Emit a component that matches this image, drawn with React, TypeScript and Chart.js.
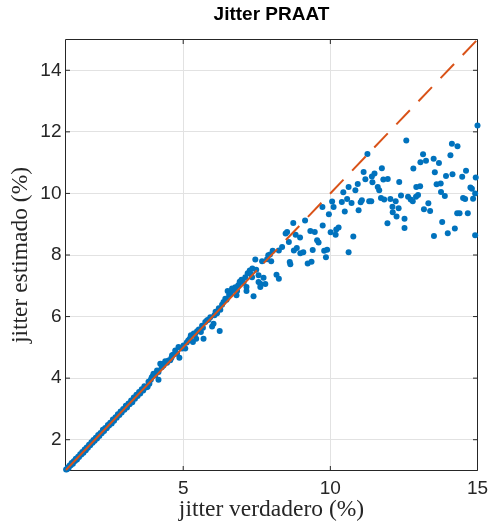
import React, { useEffect, useRef } from "react";
import { Chart, registerables } from "chart.js";

Chart.register(...registerables);

// True jitter (%) of each synthetic voice and the value PRAAT estimated for it.
const trueJitter = [
  // 1 - 4 %
  1.02, 1.05, 1.08, 1.11, 1.14, 1.18, 1.21, 1.25, 1.28, 1.32,
  1.35, 1.39, 1.43, 1.46, 1.50, 1.54, 1.57, 1.61, 1.65, 1.69,
  1.72, 1.76, 1.80, 1.84, 1.88, 1.92, 1.95, 1.99, 2.03, 2.07,
  2.11, 2.15, 2.19, 2.23, 2.27, 2.31, 2.35, 2.40, 2.44, 2.48,
  2.52, 2.57, 2.61, 2.65, 2.70, 2.74, 2.78, 2.83, 2.87, 2.91,
  2.96, 3.00, 3.05, 3.09, 3.14, 3.18, 3.23, 3.27, 3.32, 3.36,
  3.41, 3.45, 3.50, 3.54, 3.59, 3.64, 3.68, 3.73, 3.76, 3.79,
  3.82, 3.85, 3.90, 3.93, 3.97, 3.99, 4.05, 4.16,
  // 4 - 7 %
  4.11, 4.16, 4.22, 4.27, 4.30, 4.33, 4.39, 4.45, 4.50, 4.56,
  4.60, 4.62, 4.67, 4.73, 4.79, 4.84, 4.87, 4.92, 4.96, 5.01,
  5.07, 5.12, 5.17, 5.22, 5.26, 5.33, 5.36, 5.41, 5.44, 5.47,
  5.53, 5.60, 5.64, 5.67, 5.69, 5.75, 5.81, 5.86, 5.92, 5.98,
  6.03, 6.06, 6.10, 6.15, 6.21, 6.24, 6.26, 6.32, 6.37, 6.43,
  6.47, 6.51, 6.56, 6.61, 6.66, 6.72, 6.77, 6.81, 6.83, 6.87,
  6.92, 6.98,
  // 7 - 10 %
  7.05, 7.11, 7.15, 7.15, 7.19, 7.26, 7.30, 7.34, 7.35, 7.39,
  7.45, 7.48, 7.56, 7.56, 7.62, 7.62, 7.68, 7.73, 7.79, 7.85,
  7.89, 7.95, 7.99, 8.04, 8.17, 8.25, 8.25, 8.36, 8.48, 8.53,
  8.59, 8.62, 8.64, 8.74, 8.76, 8.82, 8.86, 8.97, 8.98, 9.08,
  9.14, 9.23, 9.32, 9.36, 9.40, 9.47, 9.55, 9.60, 9.73, 9.74,
  9.79, 9.85, 9.89, 9.95,
  // 10 - 15 %
  10.01, 10.06, 10.11, 10.18, 10.20, 10.28, 10.39, 10.44, 10.49, 10.57,
  10.62, 10.62, 10.72, 10.78, 10.85, 10.93, 10.96, 11.03, 11.07, 11.13,
  11.19, 11.26, 11.32, 11.39, 11.41, 11.43, 11.50, 11.61, 11.66, 11.72,
  11.75, 11.80, 11.83, 11.94, 11.95, 12.04, 12.11, 12.12, 12.22, 12.25,
  12.32, 12.34, 12.40, 12.52, 12.52, 12.58, 12.64, 12.73, 12.80, 12.82,
  12.91, 12.92, 12.98, 13.05, 13.06, 13.15, 13.18, 13.25, 13.33, 13.39,
  13.51, 13.52, 13.55, 13.61, 13.69, 13.75, 13.76, 13.80, 13.89, 13.93,
  13.99, 14.08, 14.13, 14.15, 14.23, 14.31, 14.32, 14.39, 14.48, 14.51,
  14.58, 14.61, 14.67, 14.76, 14.81, 14.85, 14.92, 14.92, 14.94, 15.00,
];

const estimatedJitter = [
  // 1 - 4 %
  1.03, 1.04, 1.10, 1.09, 1.16, 1.17, 1.24, 1.22, 1.30, 1.31,
  1.38, 1.36, 1.45, 1.44, 1.53, 1.52, 1.60, 1.58, 1.68, 1.66,
  1.75, 1.74, 1.84, 1.82, 1.92, 1.90, 1.99, 1.97, 2.06, 2.04,
  2.15, 2.12, 2.22, 2.21, 2.32, 2.28, 2.38, 2.37, 2.48, 2.46,
  2.55, 2.53, 2.66, 2.62, 2.73, 2.71, 2.83, 2.80, 2.92, 2.88,
  3.00, 2.97, 3.10, 3.05, 3.18, 3.15, 3.27, 3.22, 3.37, 3.33,
  3.46, 3.42, 3.55, 3.50, 3.64, 3.60, 3.74, 3.70, 3.71, 3.72,
  3.88, 3.82, 3.95, 4.03, 4.07, 4.14, 4.09, 3.95,
  // 4 - 7 %
  4.25, 4.20, 4.47, 4.35, 4.46, 4.41, 4.55, 4.50, 4.57, 4.58,
  4.66, 4.74, 4.77, 4.90, 4.79, 5.01, 4.66, 4.98, 4.96, 5.06,
  4.96, 5.16, 5.22, 5.28, 5.39, 5.17, 5.45, 5.44, 5.28, 5.52,
  5.58, 5.50, 5.70, 5.64, 5.28, 5.82, 5.88, 5.90, 5.98, 5.68,
  5.77, 6.04, 6.16, 6.11, 6.27, 5.53, 6.22, 6.38, 6.47, 6.58,
  6.55, 6.83, 6.70, 6.76, 6.91, 6.86, 6.95, 6.69, 6.83, 7.02,
  7.13, 7.20,
  // 7 - 10 %
  7.10, 7.28, 6.96, 6.83, 7.41, 7.50, 7.38, 7.28, 7.56, 6.66,
  7.85, 7.52, 7.34, 7.12, 7.07, 6.96, 7.80, 7.26, 7.06, 7.86,
  7.99, 8.02, 7.80, 8.14, 7.36, 7.23, 8.15, 8.26, 8.70, 8.75,
  8.42, 7.77, 7.70, 9.04, 8.15, 8.66, 8.23, 8.57, 8.06, 8.09,
  9.12, 7.72, 8.78, 7.78, 8.16, 8.75, 8.48, 8.41, 9.56, 8.96,
  8.14, 7.93, 8.17, 9.32,
  // 10 - 15 %
  8.74, 9.74, 9.56, 8.66, 8.83, 8.89, 9.72, 10.04, 9.41, 9.82,
  10.21, 8.09, 9.69, 8.60, 10.10, 10.31, 9.45, 9.71, 9.78, 10.70,
  10.46, 11.28, 9.75, 9.75, 10.55, 10.36, 10.65, 10.21, 10.10, 9.85,
  10.82, 10.45, 9.80, 9.03, 10.47, 9.82, 9.57, 9.39, 9.75, 9.25,
  9.52, 10.37, 9.93, 9.18, 8.88, 11.72, 9.89, 9.80, 9.75, 10.81,
  9.89, 10.21, 9.95, 10.23, 11.01, 11.27, 9.49, 11.06, 9.68, 9.43,
  11.13, 8.62, 10.69, 10.30, 10.99, 10.32, 10.05, 9.07, 9.92, 10.57,
  8.71, 11.24, 11.61, 10.62, 8.86, 9.36, 11.53, 9.36, 10.54, 9.85,
  9.82, 10.74, 9.36, 10.19, 10.15, 9.83, 10.00, 8.64, 10.52, 12.21,
];

// Ideal estimate (y = x): vertices of the reference line; solid below solidUntil, dashed above.
const identityLine = [1, 7.5, 15];
const solidUntil = 7.5;

const axisMin = 1;
const axisMax = 15;
const xTicks = [5, 10, 15];
const yTicks = [2, 4, 6, 8, 10, 12, 14];

const AXIS_COLOR = "#262626";
const GRID_COLOR = "#e2e2e2";
const MARKER_COLOR = "#0072BD";
const LINE_COLOR = "#D95319";
const SANS = "'Liberation Sans', Arial, Helvetica, sans-serif";
const SERIF = "'Liberation Serif', 'Times New Roman', serif";

// Box around the plot area with inward tick marks on all four sides.
const boxAndTicks = {
  id: "boxAndTicks",
  beforeDatasetsDraw(chart: any) {
    const { ctx, chartArea: a } = chart;
    const xs = chart.scales.x;
    const ys = chart.scales.y;
    const len = 4.5;
    ctx.save();
    ctx.strokeStyle = AXIS_COLOR;
    ctx.lineWidth = 1;
    ctx.beginPath();
    ctx.rect(a.left, a.top, a.right - a.left, a.bottom - a.top);
    xTicks.forEach((v) => {
      const p = xs.getPixelForValue(v);
      ctx.moveTo(p, a.bottom);
      ctx.lineTo(p, a.bottom - len);
      ctx.moveTo(p, a.top);
      ctx.lineTo(p, a.top + len);
    });
    yTicks.forEach((v) => {
      const p = ys.getPixelForValue(v);
      ctx.moveTo(a.left, p);
      ctx.lineTo(a.left + len, p);
      ctx.moveTo(a.right, p);
      ctx.lineTo(a.right - len, p);
    });
    ctx.stroke();
    ctx.restore();
  },
};

export default function App() {
  const canvasRef = useRef<HTMLCanvasElement>(null);

  useEffect(() => {
    const points = trueJitter.map((x, i) => ({ x, y: estimatedJitter[i] }));
    const dashed = [19.5, 12.5];

    const chart = new Chart(canvasRef.current as HTMLCanvasElement, {
      type: "scatter",
      data: {
        datasets: [
          {
            type: "line",
            data: identityLine.map((v) => ({ x: v, y: v })),
            borderColor: LINE_COLOR,
            borderWidth: 2,
            pointRadius: 0,
            fill: false,
            tension: 0,
            order: 0,
            segment: {
              borderDash: (ctx: any) =>
                identityLine[ctx.p0DataIndex] < solidUntil ? [] : dashed,
              borderDashOffset: (ctx: any) =>
                identityLine[ctx.p0DataIndex] < solidUntil ? 0 : 22,
            },
          } as any,
          {
            type: "scatter",
            data: points,
            pointRadius: 3,
            pointHoverRadius: 3,
            backgroundColor: MARKER_COLOR,
            borderWidth: 0,
            clip: false,
            order: 1,
          } as any,
        ],
      },
      options: {
        responsive: false,
        animation: false,
        devicePixelRatio: 1,
        events: [],
        layout: { padding: { left: 0, right: 12.5, top: 0, bottom: 0 } },
        plugins: {
          legend: { display: false },
          tooltip: { enabled: false },
          title: {
            display: true,
            text: "Jitter PRAAT",
            fullSize: false,
            color: "#000000",
            font: { family: SANS, size: 19, weight: "bold", lineHeight: 1.2 },
            padding: { top: 3, bottom: 13.7 },
          },
        },
        scales: {
          x: {
            type: "linear",
            min: axisMin,
            max: axisMax,
            afterBuildTicks: (s: any) => {
              s.ticks = xTicks.map((value) => ({ value }));
            },
            afterFit: (s: any) => {
              s.height = 51.5;
              s.paddingLeft = 0;
              s.paddingRight = 0;
            },
            grid: { color: GRID_COLOR, lineWidth: 1, drawTicks: false },
            border: { display: false },
            ticks: {
              color: AXIS_COLOR,
              font: { family: SANS, size: 19 },
              padding: 7,
              maxRotation: 0,
              autoSkip: false,
            },
            title: {
              display: true,
              text: "jitter verdadero (%)",
              color: AXIS_COLOR,
              font: { family: SERIF, size: 23.5 },
              padding: { top: 0, bottom: -2 },
            },
          },
          y: {
            type: "linear",
            min: axisMin,
            max: axisMax,
            afterBuildTicks: (s: any) => {
              s.ticks = yTicks.map((value) => ({ value }));
            },
            afterFit: (s: any) => {
              s.width = 65.5;
              s.paddingTop = 0;
              s.paddingBottom = 0;
            },
            grid: { color: GRID_COLOR, lineWidth: 1, drawTicks: false },
            border: { display: false },
            ticks: {
              color: AXIS_COLOR,
              font: { family: SANS, size: 19 },
              padding: 4,
              autoSkip: false,
            },
            title: {
              display: true,
              text: "jitter estimado (%)",
              color: AXIS_COLOR,
              font: { family: SERIF, size: 23.5 },
              padding: { top: 7, bottom: 0 },
            },
          },
        },
      },
      plugins: [boxAndTicks],
    });

    return () => chart.destroy();
  }, []);

  return (
    <div style={{ position: "fixed", left: 0, top: 0, width: 490, height: 522 }}>
      <canvas
        ref={canvasRef}
        width={490}
        height={522}
        style={{ display: "block", width: 490, height: 522 }}
      />
    </div>
  );
}
